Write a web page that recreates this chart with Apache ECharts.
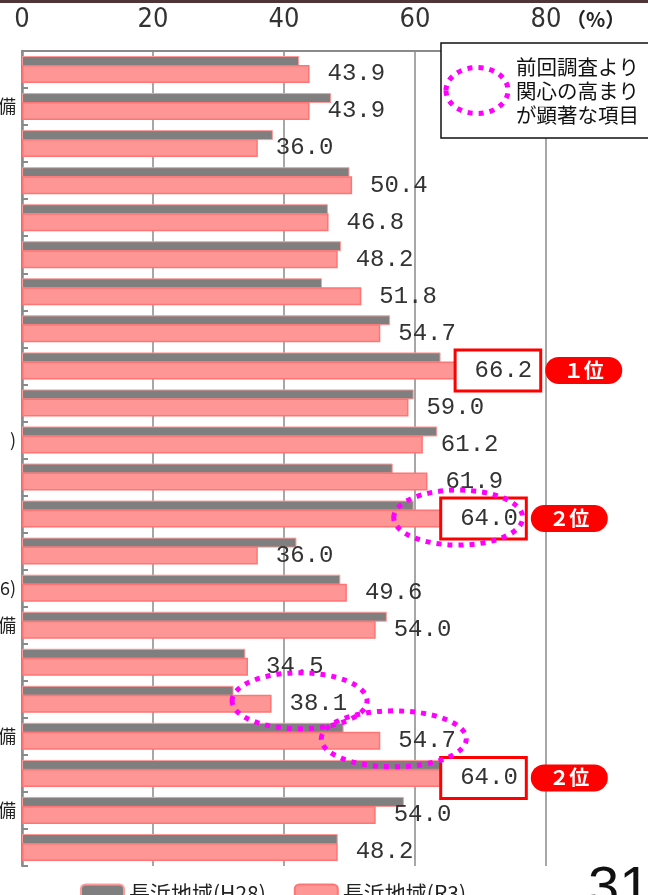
<!DOCTYPE html>
<html><head><meta charset="utf-8">
<script src="https://cdn.jsdelivr.net/npm/echarts@6/dist/echarts.min.js"></script>
<style>html,body{margin:0;padding:0;background:#fff}#c{width:648px;height:895px}</style>
</head><body><div id="c"></div>
<script>
// visible tails of the category labels (the rest is cut off at the left edge)
const categoryTails = ['', '備', '', '', '', '', '', '', '', '', ')', '', '', '', '6)', '備', '', '', '備', '', '備', ''];
const h28Values = [42.3, 47.2, 38.3, 50.0, 46.7, 48.7, 45.8, 56.2, 63.9, 59.8, 63.4, 56.6, 59.8, 41.9, 48.6, 55.7, 34.1, 32.3, 49.1, 68.4, 58.3, 48.2];
const r3Values  = [43.9, 43.9, 36.0, 50.4, 46.8, 48.2, 51.8, 54.7, 66.2, 59.0, 61.2, 61.9, 64.0, 36.0, 49.6, 54.0, 34.5, 38.1, 54.7, 64.0, 54.0, 48.2];
const rankBadges = ['', '', '', '', '', '', '', '', '１位', '', '', '', '２位', '', '', '', '', '', '', '２位', '', ''];
const notableRows = [12, 17, 18];
const seriesNames = ['長浜地域(H28)', '長浜地域(R3)'];
const noteLines = ['前回調査より', '関心の高まり', 'が顕著な項目'];
const unitText = '（%）';
const pageNumber = '31';

const MONO = '"Liberation Mono", "DejaVu Sans Mono", monospace';
const NARROW = '"Liberation Sans Narrow", "DejaVu Sans Condensed", "Liberation Sans", sans-serif';
const JP = '"Noto Sans CJK JP", sans-serif';

const chart = echarts.init(document.getElementById('c'), null, {renderer: 'canvas'});

const r3Data = r3Values.map((v, i) => {
  if (!rankBadges[i]) return v;
  return {
    value: v,
    label: {
      distance: 1,
      formatter: p => '{box|' + p.value.toFixed(1) + '}{sp|}{badge|' + rankBadges[i] + '}',
      rich: {
        box: {fontFamily: MONO, fontSize: 24, color: '#333', backgroundColor: '#fff',
              borderColor: '#ff0000', borderWidth: 3, padding: [7, 7, 7, 18], lineHeight: 24},
        sp: {width: 6},
        badge: {fontFamily: JP, fontSize: 20, fontWeight: 'bold', color: '#fff',
                backgroundColor: '#ff0000', borderRadius: 14, width: 77, height: 27,
                lineHeight: 27, align: 'center'}
      }
    }
  };
});

chart.setOption({
  animation: false,
  grid: {left: 22, top: 51, bottom: 29, right: -29, containLabel: false, outerBoundsMode: 'none'},
  xAxis: {
    type: 'value', position: 'top', min: 0, max: 100, interval: 20,
    axisLine: {show: true, lineStyle: {color: '#8a8a8a', width: 2}},
    axisTick: {show: false},
    splitLine: {show: true, lineStyle: {color: '#8a8a8a', width: 1.5}},
    axisLabel: {fontFamily: NARROW, fontSize: 27, color: '#333', margin: 18}
  },
  yAxis: {
    type: 'category', inverse: true, data: categoryTails,
    axisLine: {show: true, lineStyle: {color: '#8a8a8a', width: 2.5}},
    axisTick: {show: true, inside: true, length: 6, lineStyle: {color: '#8a8a8a', width: 2}},
    axisLabel: {fontFamily: JP, fontSize: 18, color: '#222', margin: 6}
  },
  legend: {
    left: 75, top: 878, itemWidth: 43, itemHeight: 18, itemGap: 28,
    textStyle: {fontFamily: JP, fontSize: 21, color: '#222'},
    data: seriesNames
  },
  series: [
    {
      name: seriesNames[0], type: 'bar', data: h28Values, barWidth: 10, barGap: '-10%',
      itemStyle: {color: '#7f7f7f', borderColor: '#ff9a9a', borderWidth: 1}
    },
    {
      name: seriesNames[1], type: 'bar', data: r3Data, barWidth: 18, barGap: '-10%',
      itemStyle: {color: '#ff9696', borderColor: '#ff7474', borderWidth: 1.5},
      label: {show: true, position: 'right', distance: 18, fontFamily: MONO, fontSize: 24, color: '#333',
              formatter: p => p.value.toFixed(1)}
    }
  ]
});

// annotation ellipses positioned from the data through the chart's own scales
const ellipseSpecs = {12: {dx: 17, dy: 3.5, rx: 64.5, ry: 27.5}, 17: {dx: 28, dy: 1.5, rx: 67.5, ry: 28}, 18: {dx: 13.5, dy: 2.5, rx: 72.5, ry: 28}};
const dotStyle = () => ({fill: 'none', stroke: '#ff00ff', lineWidth: 5, lineDash: [5, 6]});
const graphics = [];
notableRows.forEach(r => {
  const s = ellipseSpecs[r];
  const pt = chart.convertToPixel({gridIndex: 0}, [r3Values[r], r]);
  graphics.push({type: 'ellipse', z: 60, shape: {cx: pt[0] + s.dx, cy: pt[1] + s.dy, rx: s.rx, ry: s.ry}, style: dotStyle(), silent: true});
});
graphics.push(
  {type: 'rect', z: 70, shape: {x: 0, y: 0, width: 648, height: 3}, style: {fill: '#4f3538'}},
  {type: 'text', z: 70, left: 566, top: 9, style: {text: unitText, fontFamily: JP, fontSize: 20, fontWeight: 'bold', fill: '#222'}},
  {type: 'rect', z: 70, shape: {x: 441, y: 43, width: 220, height: 95}, style: {fill: '#fff', stroke: '#111', lineWidth: 1.5}},
  {type: 'ellipse', z: 71, shape: {cx: 477, cy: 90.5, rx: 31, ry: 23}, style: dotStyle()},
  {type: 'text', z: 71, left: 516, top: 55, style: {text: noteLines.join('\n'), lineHeight: 24, fontFamily: JP, fontSize: 20.5, fill: '#111'}},
  {type: 'text', z: 70, left: 588, top: 862, style: {text: pageNumber, fontFamily: '"Liberation Sans", sans-serif', fontSize: 56, fill: '#111'}}
);
chart.setOption({graphic: graphics});
</script>
</body></html>
